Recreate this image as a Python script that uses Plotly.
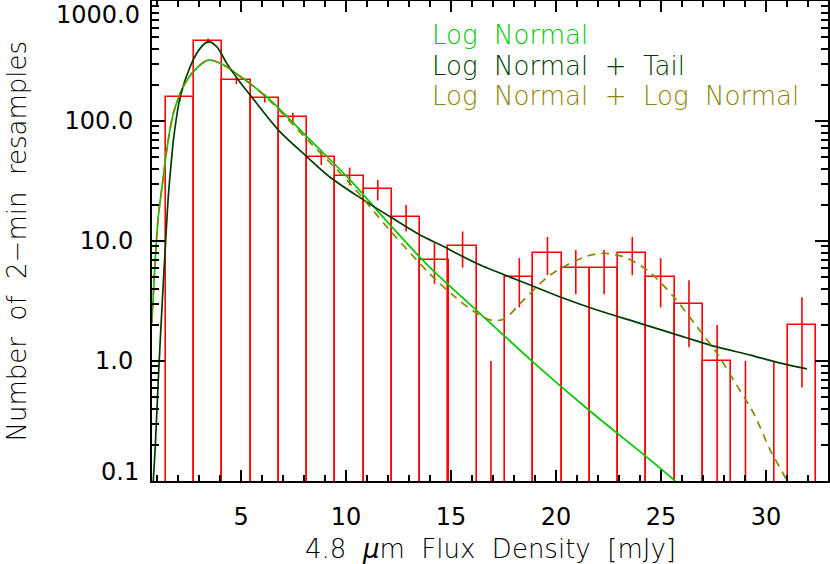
import plotly.graph_objects as go

# ---------------- data ----------------
# histogram bins (centre of each 2-min flux bin, mJy)
bin_centers = [2.09, 3.43, 4.78, 6.13, 7.47, 8.82, 10.17, 11.51, 12.86, 14.21,
               15.55, 16.90, 18.25, 19.59, 20.94, 22.29, 23.63, 24.98, 26.33,
               27.67, 29.02, 30.37, 31.71]
bin_width = 1.347
counts = [158, 465, 218, 155, 107, 50, 35, 27, 16, 7,
          9, 0, 5, 8, 6, 6, 8, 5, 3,
          1, 0, 0, 2]
count_err = [12.6, 21.6, 14.8, 12.4, 10.3, 7.1, 5.9, 5.2, 4.0, 2.6,
             3.0, 1.0, 2.2, 2.8, 2.4, 2.4, 2.8, 2.2, 1.7,
             1.0, 1.0, 1.0, 1.4]

# Log Normal fit
ln_x = [0.75, 0.905, 1.06, 1.30, 1.46, 1.78, 2.25, 2.73, 3.44, 4.16, 4.95, 5.43,
        6.38, 8.29, 10.2, 12.1, 14.0, 16.2, 18.88, 21.6, 24.25, 25.68]
ln_y = [2.06, 6.5, 16, 34, 57, 116, 193, 258, 322, 293, 236, 205,
        150, 69.5, 32.2, 13.6, 6.0, 2.66, 0.99, 0.385, 0.162, 0.1]

# Log Normal + Tail fit
lnt_x = [0.82, 0.92, 1.06, 1.22, 1.38, 1.54, 1.70, 1.78, 2.1, 2.57, 3.05, 3.44,
         3.84, 4.32, 4.87, 5.43, 6.78, 8.13, 9.24, 10.83, 12.1, 13.53,
         14.48, 16.23, 18.77, 20.36, 21.95, 24.0, 26.07, 27.66, 29.25, 30.68, 31.95]
lnt_y = [0.1, 0.2, 0.7, 2.5, 8, 24, 50, 69.5, 158, 282, 403, 458,
         416, 302, 220, 165, 84, 50.5, 34, 22, 15.9, 11.2,
         9.3, 6.5, 4.3, 3.33, 2.66, 2.06, 1.59, 1.31, 1.12, 0.96, 0.86]

# Log Normal + Log Normal fit
lnln_x = [0.75, 0.905, 1.06, 1.30, 1.46, 1.78, 2.25, 2.73, 3.44, 4.16, 4.95, 5.43,
          6.38, 8.29, 10.2, 12.1, 14.0, 15.12, 16.07, 16.86, 17.5, 18.45, 19.72,
          21.3, 22.2, 23.2, 24.33, 25.6, 26.71, 27.66, 28.46, 29.41, 30.2, 30.76, 31.0]
lnln_y = [2.06, 6.5, 16, 34, 57, 116, 193, 258, 322, 293, 236, 205,
          147, 66, 30, 12.2, 5.3, 3.5, 2.6, 2.2, 2.23, 3.22, 5.2,
          7.3, 7.9, 7.4, 5.73, 3.43, 1.93, 1.16, 0.69, 0.366, 0.181, 0.12, 0.1]

legend_labels = ["Log Normal", "Log Normal + Tail", "Log Normal + Log Normal"]
y_tickvals = [0.1, 1, 10, 100, 1000]
y_ticktext = ["0.1", "1.0", "10.0", "100.0", "1000.0"]
x_tickvals = [5, 10, 15, 20, 25, 30]
x_title = "4.8 <i>\u03bc</i>m Flux Density [mJy]"
y_title = "Number of 2\u2212min resamples"

# ---------------- styling ----------------
RED = "#ff0000"
C_LN = "#00c800"
C_LNT = "#003c00"
C_LNLN = "#878700"
FONT = "DejaVu Sans"
sp = "\u00a0"


def wide(s):
    return s.replace(" ", sp * 2)


L, R, T, B = 152, 2, 1, 83
W, H = 830, 564
PW, PH = W - L - R, H - T - B


def px_x(px):
    return (px - L) / PW


def px_y(py):
    return (H - B - py) / PH


fig = go.Figure()

# histogram boxes (zero bins not drawn)
fig.add_trace(go.Bar(
    x=bin_centers,
    y=[c if c > 0 else None for c in counts],
    width=bin_width,
    marker=dict(color="rgba(0,0,0,0)", line=dict(color=RED, width=1.6)),
    showlegend=False, hoverinfo="skip",
))

# Poisson error bars
ex, ey = [], []
for xc, c, e in zip(bin_centers, counts, count_err):
    lo = c - e if c - e > 0 else 1e-3
    ex += [xc, xc, None]
    ey += [lo, c + e, None]
fig.add_trace(go.Scatter(x=ex, y=ey, mode="lines",
                         line=dict(color=RED, width=1.6),
                         showlegend=False, hoverinfo="skip"))

# fitted curves
fig.add_trace(go.Scatter(x=ln_x, y=ln_y, mode="lines",
                         line=dict(color=C_LN, width=1.7, shape="spline", smoothing=0.9),
                         showlegend=False))
fig.add_trace(go.Scatter(x=lnt_x, y=lnt_y, mode="lines",
                         line=dict(color=C_LNT, width=1.7, shape="spline", smoothing=0.9),
                         showlegend=False))
fig.add_trace(go.Scatter(x=lnln_x, y=lnln_y, mode="lines",
                         line=dict(color=C_LNLN, width=1.7, shape="spline", smoothing=0.9,
                                   dash="8px,6px"),
                         showlegend=False))

tfont = dict(family=FONT, size=26, color="black", weight=300)
nfont = dict(family=FONT, size=24, color="black", weight=400)

# legend text
for i, (lab, col) in enumerate(zip(legend_labels, [C_LN, C_LNT, C_LNLN])):
    fig.add_annotation(
        x=px_x(430), y=px_y(35 + 30.5 * i), xref="paper", yref="paper",
        xanchor="left", yanchor="middle", showarrow=False,
        text=wide(lab), font=dict(tfont, color=col),
    )

# end labels of the y axis are drawn inward (as in the reference)
fig.add_annotation(x=px_x(141), y=px_y(0), xref="paper", yref="paper",
                   xanchor="right", yanchor="top", showarrow=False, borderpad=0,
                   text=y_ticktext[-1], font=nfont)
fig.add_annotation(x=px_x(141), y=px_y(472), xref="paper", yref="paper",
                   xanchor="right", yanchor="middle", showarrow=False,
                   text=y_ticktext[0], font=nfont)

# axis titles
fig.add_annotation(x=0.5, y=px_y(549), xref="paper", yref="paper",
                   xanchor="center", yanchor="middle", showarrow=False,
                   text=wide(x_title), font=tfont)
fig.add_annotation(x=px_x(17), y=px_y(241.5), xref="paper", yref="paper",
                   xanchor="center", yanchor="middle", showarrow=False,
                   textangle=-90, text=wide(y_title), font=tfont)

axis_common = dict(
    showline=True, linecolor="black", linewidth=2, mirror="ticks",
    ticks="inside", tickcolor="black", tickwidth=1.5,
    showgrid=False, zeroline=False, automargin=False,
    ticklabeloverflow="allow",
    tickfont=nfont,
)

fig.update_xaxes(
    range=[0.76, 32.95], tickvals=x_tickvals, ticklen=11,
    ticklabelstandoff=13,
    minor=dict(dtick=1, tick0=0, ticks="inside", ticklen=6, tickcolor="black", tickwidth=1.5),
    **axis_common,
)
fig.update_yaxes(
    type="log", range=[-1, 3], tickvals=y_tickvals,
    ticktext=[""] + y_ticktext[1:-1] + [""], ticklen=13,
    ticklabelstandoff=12,
    minor=dict(tickvals=[v * m for v in [0.1, 1, 10, 100] for m in range(2, 10)],
               ticks="inside", ticklen=7, tickcolor="black", tickwidth=1.5),
    **axis_common,
)

fig.update_layout(
    width=W, height=H,
    margin=dict(l=L, r=R, t=T, b=B),
    plot_bgcolor="white", paper_bgcolor="white",
    bargap=0, showlegend=False,
    font=dict(family=FONT),
)

fig.write_html("out.html", config={"displayModeBar": False},
               post_script="document.body.style.margin='0px';")
